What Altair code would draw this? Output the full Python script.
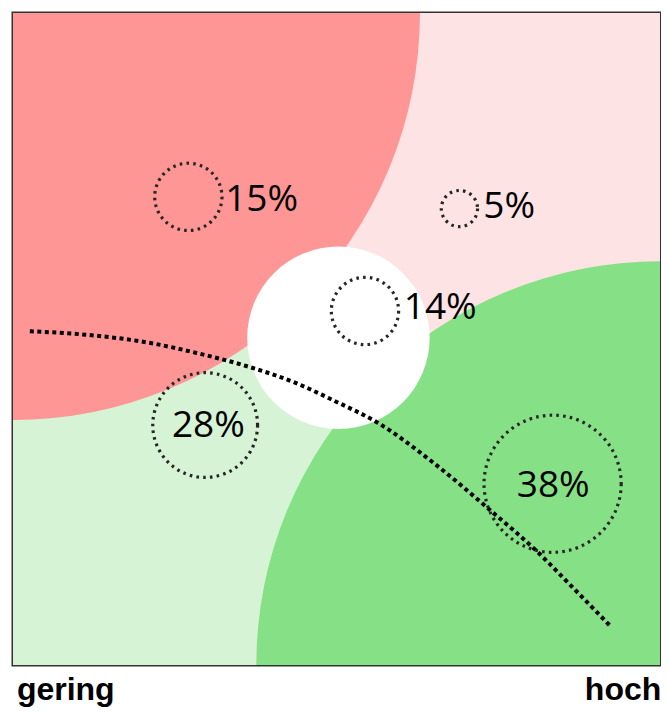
import altair as alt
import pandas as pd

# ---- background quadrants (x: gering -> hoch, y: low -> high), units 0..100
quad_x = [0, 50, 0, 50]
quad_x2 = [50, 100, 50, 100]
quad_y = [50, 50, 0, 0]
quad_y2 = [100, 100, 50, 50]
quad_color = ["#FF9696", "#FDE3E3", "#D6F3D6", "#86E186"]

# ---- big zones (circle centres and radii in units)
zone_x = [0, 100, 50.3]
zone_y = [100, 0, 50.2]
zone_r = [62.9, 62.4, 14.1]
zone_color = ["#FF9696", "#86E186", "#FFFFFF"]

# ---- segments (dotted circles) and their shares
seg_label = ["15%", "5%", "14%", "28%", "38%"]
seg_x = [27.1, 69.0, 54.4, 29.7, 83.4]
seg_y = [71.8, 70.0, 54.3, 36.8, 27.8]
seg_r = [5.2, 2.8, 5.2, 8.1, 10.6]
label_x = [32.8, 72.7, 60.4, 30.2, 83.5]
label_y = [69.6, 68.5, 53.0, 34.9, 25.8]
label_pos = ["side", "side", "side", "inside", "inside"]

# ---- dotted trend curve
curve_x = [2.6, 12.9, 20.6, 28.2, 35.9, 43.6, 49.7, 56.3, 65.0, 73.8, 80.8, 86.5, 92.2]
curve_y = [51.2, 50.5, 49.5, 47.9, 45.9, 43.3, 40.5, 37.2, 31.0, 23.7, 17.6, 11.9, 6.1]

# ---- axis end labels
end_label = ["gering", "hoch"]
end_x = [0.6, 100.2]
end_y = [-5.4, -5.4]
end_align = ["left", "right"]

quad_df = pd.DataFrame({"x": quad_x, "x2": quad_x2, "y": quad_y, "y2": quad_y2, "c": quad_color})
zone_df = pd.DataFrame({"x": zone_x, "y": zone_y, "r": zone_r, "c": zone_color})
seg_df = pd.DataFrame({"x": seg_x, "y": seg_y, "r": seg_r, "label": seg_label,
                       "lx": label_x, "ly": label_y, "pos": label_pos})
curve_df = pd.DataFrame({"x": curve_x, "y": curve_y, "i": list(range(len(curve_x)))})
end_df = pd.DataFrame({"label": end_label, "x": end_x, "y": end_y, "align": end_align})

W, H = 647, 652

xs = alt.Scale(domain=[0, 100], nice=False, zero=False)
ys = alt.Scale(domain=[0, 100], nice=False, zero=False)
size_scale = alt.Scale(type="pow", exponent=2, domain=[0, 100], range=[0, (2 * W) ** 2])

X = lambda f: alt.X(f, type="quantitative", scale=xs, axis=None)
Y = lambda f: alt.Y(f, type="quantitative", scale=ys, axis=None)

bg = alt.Chart(quad_df).mark_rect(clip=True).encode(
    x=X("x"), x2="x2", y=Y("y"), y2="y2",
    color=alt.Color("c:N", scale=None),
)

zones = alt.Chart(zone_df).mark_circle(opacity=1, clip=True).encode(
    x=X("x"), y=Y("y"),
    size=alt.Size("r:Q", scale=size_scale, legend=None),
    color=alt.Color("c:N", scale=None),
)

rings = alt.Chart(seg_df).mark_point(
    shape="circle", filled=False, clip=True, opacity=1,
    color="#262626", strokeWidth=3.2, strokeDash=[2.6, 4.2],
).encode(
    x=X("x"), y=Y("y"),
    size=alt.Size("r:Q", scale=size_scale, legend=None),
)

curve = alt.Chart(curve_df).mark_line(
    color="black", strokeWidth=4, strokeDash=[4, 3.5], interpolate="monotone", clip=True,
).encode(x=X("x"), y=Y("y"), order="i:Q")

side_text = alt.Chart(seg_df).transform_filter(alt.datum.pos == "side").mark_text(
    font="Open Sans", fontSize=37, align="left", baseline="alphabetic", color="black",
).encode(x=X("lx"), y=Y("ly"), text="label:N")

inside_text = alt.Chart(seg_df).transform_filter(alt.datum.pos == "inside").mark_text(
    font="Open Sans", fontSize=37, align="center", baseline="alphabetic", color="black",
).encode(x=X("lx"), y=Y("ly"), text="label:N")

left_lab = alt.Chart(end_df).transform_filter(alt.datum.align == "left").mark_text(
    font="Liberation Sans", fontWeight="bold", fontSize=32, align="left",
    baseline="alphabetic", color="black", clip=False,
).encode(x=X("x"), y=Y("y"), text="label:N")

right_lab = alt.Chart(end_df).transform_filter(alt.datum.align == "right").mark_text(
    font="Liberation Sans", fontWeight="bold", fontSize=32, align="right",
    baseline="alphabetic", color="black", clip=False,
).encode(x=X("x"), y=Y("y"), text="label:N")

chart = alt.layer(
    bg, zones, curve, rings, side_text, inside_text, left_lab, right_lab
).properties(
    width=W, height=H,
    padding={"left": 5, "top": 5, "right": 1, "bottom": 42},
    autosize=alt.AutoSizeParams(type="none"),
).configure_view(stroke="#333333", strokeWidth=3)

chart.save("out.html", embed_options={"renderer": "svg", "actions": False})
